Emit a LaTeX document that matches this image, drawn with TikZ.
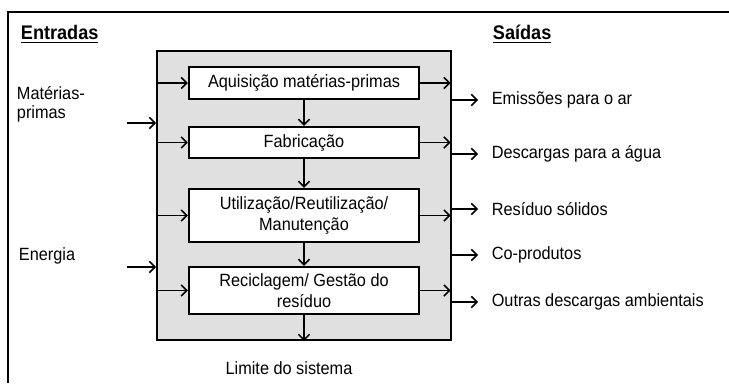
\documentclass[tikz,border=0pt]{standalone}
\usepackage{fontspec}
\setmainfont[FakeStretch=0.92]{Liberation Sans}
\usetikzlibrary{positioning,arrows.meta}
\tikzset{
  lbl/.style={font=\fontsize{12.6}{14.5}\selectfont},
  heading/.style={font=\bfseries\fontsize{14}{16}\selectfont,anchor=west},
  stage/.style={draw,line width=1.6pt,fill=white,minimum width=5.75cm,align=center,inner sep=1pt,lbl},
  flow/.style={-{Straight Barb[length=4pt,width=8pt]},line width=1.1pt},
}
\begin{document}
\begin{tikzpicture}
  \useasboundingbox (0,0) rectangle (18.225,9.575);
  \draw[line width=1.3pt] (0.2,0) -- (0.2,9.275) -- (18.225,9.275);
  \node[heading] (entradas) at (0.4,8.72) {\underline{Entradas}};
  \node[heading] (saidas) at (12.2,8.72) {\underline{Saídas}};
  \node[draw,line width=1.4pt,fill=black!12,minimum width=7.35cm,minimum height=7.225cm] (sys) at (7.6,4.6875) {};
  \node[stage,minimum height=0.8cm] (acq) at (7.6,7.5) {Aquisição matérias-primas};
  \node[stage,minimum height=0.775cm] (fab) at (7.6,6.0125) {Fabricação};
  \node[stage,minimum height=1.325cm] (use) at (7.6,4.1875) {Utilização/Reutilização/\\Manutenção};
  \node[stage,minimum height=1.175cm] (rec) at (7.6,2.3125) {Reciclagem/ Gestão do\\resíduo};
  \draw[flow] (acq) -- (fab);
  \draw[flow] (fab) -- (use);
  \draw[flow] (use) -- (rec);
  \draw[flow] (rec) -- (rec |- sys.south);
  \draw[flow] (sys.west |- acq) -- (acq);
  \draw[flow] (sys.west |- fab) -- (fab);
  \draw[flow] (sys.west |- use) -- (use);
  \draw[flow] (sys.west |- rec) -- (rec);
  \draw[flow,shorten >=1pt] (acq) -- (acq -| sys.east);
  \draw[flow,shorten >=1pt] (fab) -- (fab -| sys.east);
  \draw[flow,shorten >=1pt] (use) -- (use -| sys.east);
  \draw[flow,shorten >=1pt] (rec) -- (rec -| sys.east);
  \node[lbl,anchor=west,align=left,font=\fontsize{12.6}{13.5}\selectfont] (mat) at (0.3,6.9625) {Matérias-\\primas};
  \node[lbl,anchor=west] (ene) at (0.35,3.175) {Energia};
  \coordinate (matin) at (3.175,6.5);
  \coordinate (enein) at (3.175,2.9);
  \draw[flow] (matin) -- (matin -| sys.west);
  \draw[flow] (enein) -- (enein -| sys.west);
  \node[lbl,anchor=west] (air) at (12.17,7.075) {Emissões para o ar};
  \node[lbl,anchor=west] (water) at (12.17,5.725) {Descargas para a água};
  \node[lbl,anchor=west] (solid) at (12.17,4.35) {Resíduo sólidos};
  \node[lbl,anchor=west] (coprod) at (12.17,3.2) {Co-produtos};
  \node[lbl,anchor=west] (other) at (12.17,2.025) {Outras descargas ambientais};
  \draw[flow,shorten >=0.22cm] (air -| sys.east) -- (air);
  \draw[flow,shorten >=0.22cm] (water -| sys.east) -- (water);
  \draw[flow,shorten >=0.22cm] (solid -| sys.east) -- (solid);
  \draw[flow,shorten >=0.22cm] (coprod -| sys.east) -- (coprod);
  \draw[flow,shorten >=0.22cm] (other -| sys.east) -- (other);
  \node[lbl] (lim) at (7.225,0.375) {Limite do sistema};
\end{tikzpicture}
\end{document}
